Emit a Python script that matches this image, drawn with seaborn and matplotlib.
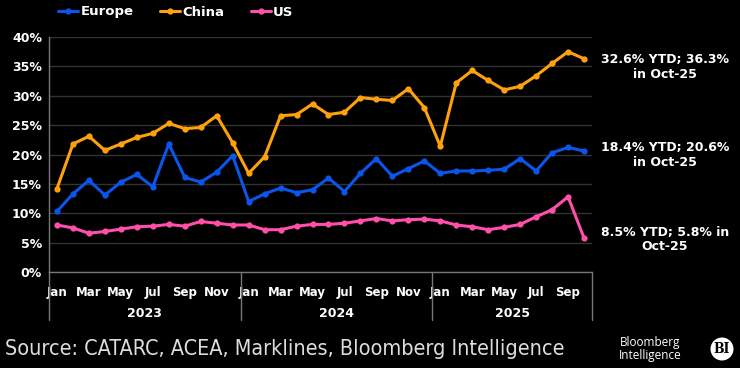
import numpy as np
import pandas as pd
import seaborn as sns
import matplotlib.pyplot as plt
from matplotlib.lines import Line2D
from matplotlib.patches import Circle
import matplotlib.transforms as mtransforms

# monthly share, Jan 2023 .. Oct 2025
months = ["Jan", "Feb", "Mar", "Apr", "May", "Jun", "Jul", "Aug", "Sep", "Oct", "Nov", "Dec"]
years = ["2023", "2024", "2025"]
n_months = 34

europe = [10.3, 13.3, 15.6, 13.1, 15.3, 16.6, 14.5, 21.8, 16.1, 15.3, 17.0, 19.8,
          12.0, 13.3, 14.3, 13.5, 14.0, 16.0, 13.7, 16.8, 19.3, 16.3, 17.6, 18.9,
          16.8, 17.2, 17.2, 17.3, 17.5, 19.3, 17.2, 20.3, 21.2, 20.6]
china = [14.2, 21.8, 23.1, 20.7, 21.8, 22.9, 23.6, 25.3, 24.4, 24.6, 26.6, 22.0,
         16.8, 19.6, 26.6, 26.8, 28.6, 26.8, 27.2, 29.7, 29.4, 29.2, 31.2, 28.0,
         21.4, 32.2, 34.3, 32.6, 31.0, 31.6, 33.4, 35.5, 37.5, 36.3]
us = [8.0, 7.5, 6.6, 6.9, 7.3, 7.7, 7.8, 8.1, 7.8, 8.6, 8.3, 8.0,
      8.0, 7.2, 7.2, 7.8, 8.1, 8.1, 8.3, 8.7, 9.1, 8.7, 8.9, 9.0,
      8.7, 8.0, 7.7, 7.2, 7.6, 8.1, 9.4, 10.6, 12.8, 5.8]

series_names = ["Europe", "China", "US"]
colors = {"Europe": "#0A55EB", "China": "#FFA10C", "US": "#FF4FAA"}
end_labels = {
    "China": "32.6% YTD; 36.3%\nin Oct-25",
    "Europe": "18.4% YTD; 20.6%\nin Oct-25",
    "US": "8.5% YTD; 5.8% in\nOct-25",
}
source = "Source: CATARC, ACEA, Marklines, Bloomberg Intelligence"

idx = np.arange(n_months)
df = pd.DataFrame({"month": idx, "Europe": europe, "China": china, "US": us})
df_long = df.melt(id_vars="month", var_name="region", value_name="share")

sns.set_style("dark")
plt.rcParams["font.family"] = ["DejaVu Sans"]

W, H = 740, 368
fig = plt.figure(figsize=(W / 100, H / 100), dpi=100, facecolor="black")
ax = fig.add_axes([49 / W, 1 - 272 / H, (592 - 49) / W, (272 - 37) / H])
ax.set_facecolor("black")

sns.lineplot(data=df_long, x="month", y="share", hue="region", hue_order=series_names,
             palette=colors, marker="o", markersize=4.5, markeredgewidth=0,
             linewidth=2.2, ax=ax, legend=False)

ax.set_xlim(-0.5, n_months - 0.5)
ax.set_ylim(0, 40)
ax.set_yticks(range(0, 41, 5))
ax.set_yticklabels([f"{v}%" for v in range(0, 41, 5)], color="white",
                   fontsize=9, fontweight="bold")
ax.yaxis.grid(True, color="#333333", linewidth=1)
ax.xaxis.grid(False)
ax.set_xlabel("")
ax.set_ylabel("")

tick_pos = idx[::2]
ax.set_xticks(tick_pos)
ax.set_xticklabels([months[i % 12] for i in tick_pos], color="white",
                   fontsize=8.5, fontweight="bold")
ax.tick_params(axis="both", length=0, pad=5)
ax.tick_params(axis="x", pad=10)

for s in ["top", "right"]:
    ax.spines[s].set_visible(False)
for s in ["left", "bottom"]:
    ax.spines[s].set_visible(True)
    ax.spines[s].set_color("#777777")
    ax.spines[s].set_linewidth(1)

# year groups under the month labels
trans = mtransforms.blended_transform_factory(ax.transData, ax.transAxes)
for k, yr in enumerate(years):
    start = 12 * k
    end = min(12 * (k + 1), n_months) - 1
    ax.text((start + end) / 2, -0.175, yr, transform=trans, ha="center", va="center",
            color="white", fontsize=9, fontweight="bold")
for b in [-0.5, 11.5, 23.5, n_months - 0.5]:
    ax.add_line(Line2D([b, b], [0, -0.205], transform=trans, color="#777777",
                       linewidth=1, clip_on=False))

# legend
handles = [Line2D([], [], color=colors[n], marker="o", markersize=3.5, linewidth=2.2)
           for n in series_names]
leg = fig.legend(handles, series_names, loc="center left", bbox_to_anchor=(46 / W, 1 - 12 / H),
                 ncol=3, frameon=False, handlelength=1.55, handletextpad=0.15,
                 columnspacing=2.0, prop={"weight": "bold", "size": 9.5})
for t in leg.get_texts():
    t.set_color("white")

# end-of-line annotations
ann_y = {"China": 67, "Europe": 155, "US": 239}
for n in series_names:
    fig.text(665 / W, 1 - ann_y[n] / H, end_labels[n], ha="center", va="center",
             color="white", fontsize=9, fontweight="bold", linespacing=1.1)

fig.text(5 / W, 1 - 349 / H, source, ha="left", va="center", color="#DDDDDD",
         fontsize=15.5, family=["DejaVu Sans"], fontstretch="condensed")

# logo
fig.text(650 / W, 1 - 349 / H, "Bloomberg\nIntelligence", ha="center", va="center",
         color="white", fontsize=8.5, family=["Open Sans", "DejaVu Sans"], linespacing=1.0)
circ = Circle((7.22, 3.68 - 3.49), 0.115, transform=fig.dpi_scale_trans,
              facecolor="white", edgecolor="none")
fig.patches.append(circ)
fig.text(722 / W, 1 - 349 / H, "BI", ha="center", va="center", color="black",
         fontsize=10, fontweight="bold", family=["DejaVu Serif"], fontstretch="condensed")

fig.savefig("out.png", dpi=100, facecolor="black")
